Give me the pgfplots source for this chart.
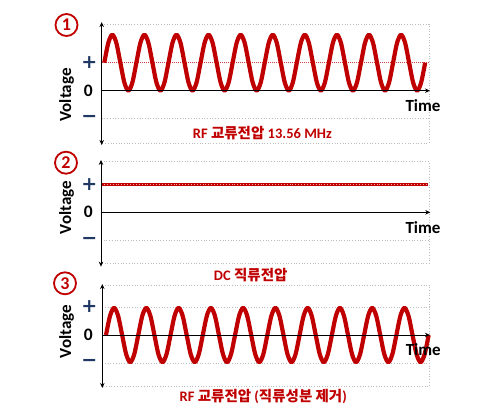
\documentclass[border=0pt]{standalone}
\usepackage{fontspec}
\setmainfont{Carlito}
\newfontfamily\kr{Noto Sans CJK KR}
\newfontfamily\djv{DejaVu Sans}
\usepackage{pgfplots}
\pgfplotsset{compat=1.18}
\usetikzlibrary{arrows.meta}
\definecolor{dred}{HTML}{C00000}
\definecolor{navy}{HTML}{1F3864}
\definecolor{gline}{HTML}{BDBDBD}
\pgfplotsset{panel/.style={scale only axis, axis lines=none, clip=false, anchor=south west, ticks=none}}
\tikzset{
  gdot/.style={gline, dotted, line width=0.7pt},
  axl/.style={black, line width=0.9pt},
  arr/.tip={Stealth[length=5pt,width=4.5pt]},
  cnum/.style={circle, draw=dred, line width=1.8pt, minimum size=22pt, inner sep=0pt, text=dred, font=\fontsize{18}{18}\selectfont\bfseries},
  pmsign/.style={text=navy, font=\djv\fontsize{19}{19}\selectfont\bfseries, inner sep=0pt},
  zerolab/.style={font=\fontsize{17.5}{17.5}\selectfont\bfseries, inner sep=0pt},
  axlab/.style={font=\fontsize{17}{17}\selectfont\bfseries, inner sep=0pt},
  captxt/.style={text=dred, font=\fontsize{14.5}{15}\selectfont\bfseries, inner sep=0pt}
}
\begin{document}
\begin{tikzpicture}
\path[use as bounding box] (0,0) rectangle (489pt,414pt);
% ---------------- Panel 1 ----------------
\begin{axis}[panel, at={(101.7pt,271pt)}, width=327.3pt, height=119pt,
  xmin=-0.081, xmax=10.12, ymin=-1.868, ymax=2.382]
\draw[gdot] (rel axis cs:0,1) -- (rel axis cs:1,1) -- (rel axis cs:1,0) -- (rel axis cs:0,0);
\draw[gdot] (axis cs:-0.081,-1) -- (axis cs:10.12,-1);
\draw[dred!75, densely dotted, line width=1pt] (axis cs:-0.081,1) -- (axis cs:10.12,1);
\addplot[dred, line width=4.2pt, smooth, line join=round] coordinates {
(0,1) (0.125,1.707) (0.25,2) (0.375,1.707) (0.5,1) (0.625,0.293) (0.75,0) (0.875,0.293)
(1,1) (1.125,1.707) (1.25,2) (1.375,1.707) (1.5,1) (1.625,0.293) (1.75,0) (1.875,0.293)
(2,1) (2.125,1.707) (2.25,2) (2.375,1.707) (2.5,1) (2.625,0.293) (2.75,0) (2.875,0.293)
(3,1) (3.125,1.707) (3.25,2) (3.375,1.707) (3.5,1) (3.625,0.293) (3.75,0) (3.875,0.293)
(4,1) (4.125,1.707) (4.25,2) (4.375,1.707) (4.5,1) (4.625,0.293) (4.75,0) (4.875,0.293)
(5,1) (5.125,1.707) (5.25,2) (5.375,1.707) (5.5,1) (5.625,0.293) (5.75,0) (5.875,0.293)
(6,1) (6.125,1.707) (6.25,2) (6.375,1.707) (6.5,1) (6.625,0.293) (6.75,0) (6.875,0.293)
(7,1) (7.125,1.707) (7.25,2) (7.375,1.707) (7.5,1) (7.625,0.293) (7.75,0) (7.875,0.293)
(8,1) (8.125,1.707) (8.25,2) (8.375,1.707) (8.5,1) (8.625,0.293) (8.75,0) (8.875,0.293)
(9,1) (9.125,1.707) (9.25,2) (9.375,1.707) (9.5,1) (9.625,0.293) (9.75,0) (9.875,0.293)
(10,1)};
\draw[axl, -arr] (axis cs:-0.081,0) -- (axis cs:10.15,0);
\draw[axl, arr-arr] (axis cs:-0.081,-1.94) -- (axis cs:-0.081,2.45);
\end{axis}
% ---------------- Panel 2 ----------------
\begin{axis}[panel, at={(101pt,150.7pt)}, width=328pt, height=101.6pt,
  xmin=0, xmax=10.22, ymin=-1.83, ymax=1.817]
\draw[gdot] (rel axis cs:0,1) -- (rel axis cs:1,1) -- (rel axis cs:1,0) -- (rel axis cs:0,0);
\draw[gdot] (axis cs:0,-1) -- (axis cs:10.22,-1);
\addplot[dred, line width=3.2pt] coordinates {(0,1) (10.19,1)};
\addplot[red!35, dotted, line width=0.9pt] coordinates {(0,1) (10.19,1)};
\draw[axl, -arr] (axis cs:0,0) -- (axis cs:10.26,0);
\draw[axl, arr-arr] (axis cs:0,-1.95) -- (axis cs:0,1.88);
\end{axis}
% ---------------- Panel 3 ----------------
\begin{axis}[panel, at={(102.3pt,28pt)}, width=327pt, height=101pt,
  xmin=-0.115, xmax=10.02, ymin=-1.82, ymax=1.786]
\draw[gdot] (rel axis cs:0,1) -- (rel axis cs:1,1) -- (rel axis cs:1,0) -- (rel axis cs:0,0);
\draw[gdot] (axis cs:-0.115,-1) -- (axis cs:10.02,-1);
\draw[gdot] (axis cs:-0.115,1) -- (axis cs:10.02,1);
\addplot[dred, line width=4.2pt, smooth, line join=round] coordinates {
(0,0) (0.125,0.686) (0.25,0.97) (0.375,0.686) (0.5,0) (0.625,-0.686) (0.75,-0.97) (0.875,-0.686)
(1,0) (1.125,0.686) (1.25,0.97) (1.375,0.686) (1.5,0) (1.625,-0.686) (1.75,-0.97) (1.875,-0.686)
(2,0) (2.125,0.686) (2.25,0.97) (2.375,0.686) (2.5,0) (2.625,-0.686) (2.75,-0.97) (2.875,-0.686)
(3,0) (3.125,0.686) (3.25,0.97) (3.375,0.686) (3.5,0) (3.625,-0.686) (3.75,-0.97) (3.875,-0.686)
(4,0) (4.125,0.686) (4.25,0.97) (4.375,0.686) (4.5,0) (4.625,-0.686) (4.75,-0.97) (4.875,-0.686)
(5,0) (5.125,0.686) (5.25,0.97) (5.375,0.686) (5.5,0) (5.625,-0.686) (5.75,-0.97) (5.875,-0.686)
(6,0) (6.125,0.686) (6.25,0.97) (6.375,0.686) (6.5,0) (6.625,-0.686) (6.75,-0.97) (6.875,-0.686)
(7,0) (7.125,0.686) (7.25,0.97) (7.375,0.686) (7.5,0) (7.625,-0.686) (7.75,-0.97) (7.875,-0.686)
(8,0) (8.125,0.686) (8.25,0.97) (8.375,0.686) (8.5,0) (8.625,-0.686) (8.75,-0.97) (8.875,-0.686)
(9,0) (9.125,0.686) (9.25,0.97) (9.375,0.686) (9.5,0) (9.625,-0.686) (9.75,-0.97) (9.875,-0.686)
(10,0)};
\draw[axl, -arr] (axis cs:-0.115,0) -- (axis cs:10.04,0);
\draw[axl, arr-arr] (axis cs:-0.115,-1.89) -- (axis cs:-0.115,1.82);
\end{axis}
% ---------------- Labels ----------------
% panel 1
\node[cnum] at (66.5pt,389pt) {1};
\node[pmsign] at (89.3pt,351.5pt) {+};
\node[zerolab] at (88.3pt,323.3pt) {0};
\node[pmsign] at (89.3pt,295pt) {−};
\node[axlab, rotate=90] at (66.7pt,319pt) {Voltage};
\node[axlab] at (423pt,308pt) {Time};
\node[captxt] at (262.4pt,280.7pt) {RF {\kr 교류전압} 13.56 MHz};
% panel 2
\node[cnum] at (66pt,251.3pt) {2};
\node[pmsign] at (89.3pt,229pt) {+};
\node[zerolab] at (88.3pt,201.7pt) {0};
\node[pmsign] at (89.3pt,173.3pt) {−};
\node[axlab, rotate=90] at (66.7pt,206.5pt) {Voltage};
\node[axlab] at (423pt,186.7pt) {Time};
\node[captxt] at (250.7pt,139pt) {DC {\kr 직류전압}};
% panel 3
\node[cnum] at (65pt,130.7pt) {3};
\node[pmsign] at (89.3pt,107.3pt) {+};
\node[zerolab] at (88.3pt,79pt) {0};
\node[pmsign] at (89.3pt,51.3pt) {−};
\node[axlab, rotate=90] at (66.7pt,82.5pt) {Voltage};
\node[axlab] at (423.3pt,64.7pt) {Time};
\node[captxt] at (263.3pt,17.3pt) {RF {\kr 교류전압} ({\kr 직류성분 제거})};
\end{tikzpicture}
\end{document}
